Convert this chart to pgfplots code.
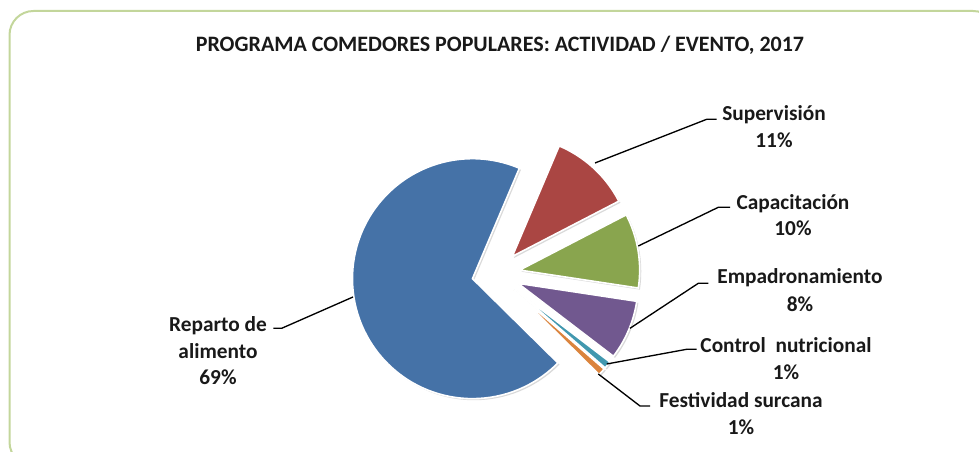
\documentclass[border=0pt]{standalone}
\usepackage{pgfplots}
\pgfplotsset{compat=1.18}
\usepackage{pgfplotstable}
\usepackage{fontspec}
\setmainfont{Carlito}
\definecolor{slice0}{HTML}{AA4643}
\definecolor{slice1}{HTML}{89A54E}
\definecolor{slice2}{HTML}{71588F}
\definecolor{slice3}{HTML}{4198AF}
\definecolor{slice4}{HTML}{DB843D}
\definecolor{slice5}{HTML}{4572A7}
\definecolor{framegreen}{HTML}{C3D69B}
\pgfplotstableread{
value
11
10
8
1
1
69
}\piedata
\begin{document}
\begin{tikzpicture}[
  lab/.style={anchor=base, inner sep=0pt, font=\fontsize{16}{19}\selectfont\bfseries, text=black!90},
  lead/.style={black, line width=1pt}]
\begin{axis}[
  scale only axis, width=734.25pt, height=339pt,
  xmin=0, xmax=979, ymin=0, ymax=452,
  hide axis, clip=false]
  % frame
  \draw[framegreen, line width=1.5pt, rounded corners=18pt] (axis cs:9.5,441) rectangle (axis cs:997,-14);
  % slices
  \pgfmathsetmacro{\cur}{67}
  \pgfplotsforeachungrouped \i in {0,...,5}{
    \pgfplotstablegetelem{\i}{value}\of\piedata
    \pgfmathsetmacro{\nxt}{\cur-3.6*\pgfplotsretval}
    \pgfmathsetmacro{\midang}{(\cur+\nxt)/2}
    \pgfmathsetmacro{\vx}{496+24*cos(\midang)}
    \pgfmathsetmacro{\vy}{178+24*sin(\midang)}
    \pgfmathsetmacro{\pax}{\vx+120*cos(\cur)}
    \pgfmathsetmacro{\pay}{\vy+120*sin(\cur)}
    \edef\temp{\noexpand\fill[fill=slice\i, draw=white, line width=1.2pt,
      preaction={fill=black, opacity=0.15, transform canvas={xshift=1.2pt, yshift=-1.2pt}}]
      (axis cs:\vx,\vy) -- (axis cs:\pax,\pay) arc[start angle=\cur, end angle=\nxt, radius=90pt] -- cycle;}
    \temp
    \global\let\cur\nxt
  }
  % leader lines
  \draw[lead] (axis cs:595,289) -- (axis cs:706.7,332.7) -- (axis cs:716.7,332.7);
  \draw[lead] (axis cs:638.3,206) -- (axis cs:718.3,244.7) -- (axis cs:730,244.7);
  \draw[lead] (axis cs:630,123.7) -- (axis cs:698.3,168.7) -- (axis cs:708.3,168.7);
  \draw[lead] (axis cs:606.7,88) -- (axis cs:686.7,102.7) -- (axis cs:696.7,102.7);
  \draw[lead] (axis cs:598.3,78) -- (axis cs:640,46) -- (axis cs:650,46);
  \draw[lead] (axis cs:353,155) -- (axis cs:281.7,123.7) -- (axis cs:273.3,123.7);
  % title
  \node[lab, font=\fontsize{16.5}{19}\selectfont\bfseries] at (axis cs:500,400.3) {PROGRAMA COMEDORES POPULARES: ACTIVIDAD / EVENTO, 2017};
  % labels
  \node[lab] at (axis cs:774,331) {Supervisión};
  \node[lab] at (axis cs:774,304.7) {11\%};
  \node[lab] at (axis cs:793,242.7) {Capacitación};
  \node[lab] at (axis cs:793,216.3) {10\%};
  \node[lab] at (axis cs:800,168) {Empadronamiento};
  \node[lab] at (axis cs:800,140.3) {8\%};
  \node[lab] at (axis cs:786,99.3) {Control\ \ nutricional};
  \node[lab] at (axis cs:786,72) {1\%};
  \node[lab] at (axis cs:741,44.3) {Festividad surcana};
  \node[lab] at (axis cs:741,17) {1\%};
  \node[lab] at (axis cs:218,120.3) {Reparto de};
  \node[lab] at (axis cs:218,93.7) {alimento};
  \node[lab] at (axis cs:218,67) {69\%};
\end{axis}
\pgfresetboundingbox
\path (current axis.south west) rectangle (current axis.north east);
\end{tikzpicture}
\end{document}
